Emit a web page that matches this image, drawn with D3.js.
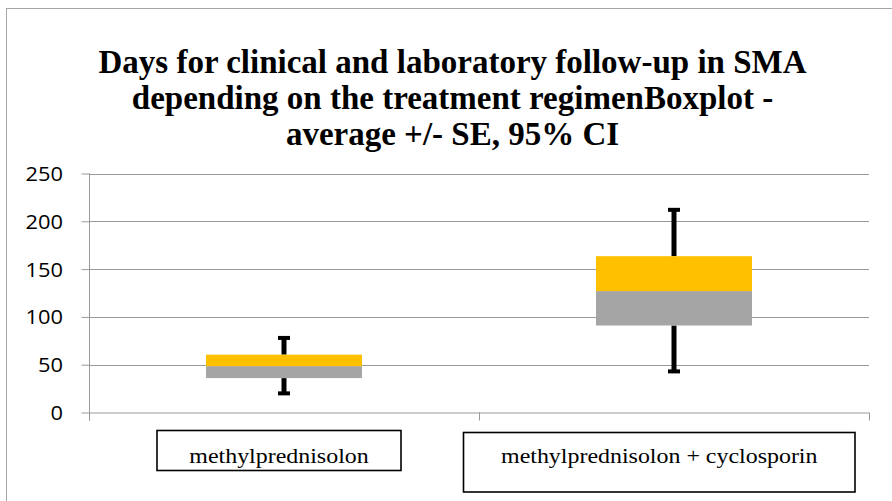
<!DOCTYPE html>
<html>
<head>
<meta charset="utf-8">
<script src="https://cdn.jsdelivr.net/npm/d3@7"></script>
<style>
  html, body { margin: 0; padding: 0; background: #fff; }
  svg { display: block; }
</style>
</head>
<body>
<svg id="chart" width="892" height="501"></svg>
<script>
// Follow-up days by treatment regimen: quartile box with min/max whiskers
const categories = ["methylprednisolon", "methylprednisolon + cyclosporin"];
const minValues    = [20, 43];
const q1Values     = [36, 91];
const medianValues = [48.5, 127];
const q3Values     = [60.5, 163.5];
const maxValues    = [78, 212];
const yTicks = [0, 50, 100, 150, 200, 250];
const titleLines = [
  "Days for clinical and laboratory follow-up in SMA",
  "depending on the treatment regimenBoxplot -",
  "average +/- SE, 95% CI"
];

const svg = d3.select("#chart");
const W = 892, H = 501;

// Chart frame
svg.append("rect")
  .attr("x", 6.5).attr("y", 8.5)
  .attr("width", W + 20).attr("height", H + 20)
  .attr("fill", "#fff").attr("stroke", "#a6a6a6").attr("stroke-width", 1);

// Title
const title = svg.append("text")
  .attr("text-anchor", "middle")
  .attr("font-family", "'Liberation Serif', 'Times New Roman', serif")
  .attr("font-weight", "bold")
  .attr("font-size", 33)
  .attr("fill", "#000");
titleLines.forEach((t, i) => {
  title.append("tspan").attr("x", 452.5).attr("y", 73 + i * 36).text(t);
});

// Plot area
const plot = { left: 89, right: 869, top: 173.5, bottom: 412.5 };
const y = d3.scaleLinear().domain([0, 250]).range([plot.bottom, plot.top]);
const x = d3.scaleBand().domain(categories).range([plot.left, plot.right]).padding(0);
const gridColor = "#999999";

// Horizontal gridlines
svg.append("g")
  .selectAll("line")
  .data(yTicks.filter(d => d > 0))
  .join("line")
  .attr("x1", plot.left).attr("x2", plot.right)
  .attr("y1", d => Math.round(y(d)) + 0.5).attr("y2", d => Math.round(y(d)) + 0.5)
  .attr("stroke", gridColor).attr("stroke-width", 1);

// Y axis
const yAxis = svg.append("g")
  .attr("transform", `translate(${plot.left + 0.5},0)`)
  .call(d3.axisLeft(y).tickValues(yTicks).tickSize(8).tickPadding(0).tickFormat(d3.format("d")));
yAxis.select(".domain").attr("stroke", gridColor).attr("d", `M0,${plot.top}V${plot.bottom + 8}`);
yAxis.selectAll(".tick line").attr("stroke", gridColor);
const sx = 1.12;
yAxis.selectAll(".tick text")
  .attr("font-family", "'Open Sans', 'Noto Sans', sans-serif")
  .attr("font-size", 19.5)
  .attr("fill", "#000")
  .attr("transform", `scale(${sx},1)`)
  .attr("x", -26.5 / sx)
  .attr("dy", "0.36em");

// X axis with tick marks at category boundaries
const xAxisG = svg.append("g").attr("transform", `translate(0,${plot.bottom})`);
xAxisG.append("line")
  .attr("x1", plot.left).attr("x2", plot.right)
  .attr("y1", 0.5).attr("y2", 0.5)
  .attr("stroke", gridColor);
const boundaries = categories.map(c => x(c)).concat([x(categories[categories.length - 1]) + x.bandwidth()]);
xAxisG.selectAll("line.tk")
  .data(boundaries)
  .join("line").attr("class", "tk")
  .attr("x1", d => Math.round(d) + 0.5).attr("x2", d => Math.round(d) + 0.5)
  .attr("y1", 0).attr("y2", 8)
  .attr("stroke", gridColor);

// Boxes and whiskers
const boxW = x.bandwidth() * 0.4;
const rows = categories.map((c, i) => ({
  c, min: minValues[i], q1: q1Values[i], med: medianValues[i], q3: q3Values[i], max: maxValues[i]
}));
const g = svg.append("g");
const cx = d => x(d.c) + x.bandwidth() / 2;

// whisker stems
g.selectAll("line.stem-top").data(rows).join("line")
  .attr("x1", cx).attr("x2", cx)
  .attr("y1", d => y(d.max)).attr("y2", d => y(d.q3))
  .attr("stroke", "#000").attr("stroke-width", 5);
g.selectAll("line.stem-bottom").data(rows).join("line")
  .attr("x1", cx).attr("x2", cx)
  .attr("y1", d => y(d.min)).attr("y2", d => y(d.q1))
  .attr("stroke", "#000").attr("stroke-width", 5);
// whisker caps
["max", "min"].forEach(k => {
  g.selectAll(`line.cap-${k}`).data(rows).join("line")
    .attr("x1", d => cx(d) - 6).attr("x2", d => cx(d) + 6)
    .attr("y1", d => y(d[k])).attr("y2", d => y(d[k]))
    .attr("stroke", "#000").attr("stroke-width", 4);
});
// lower half of box (Q1 to median)
g.selectAll("rect.low").data(rows).join("rect")
  .attr("x", d => cx(d) - boxW / 2).attr("width", boxW)
  .attr("y", d => y(d.med)).attr("height", d => y(d.q1) - y(d.med))
  .attr("fill", "#a5a5a5");
// upper half of box (median to Q3)
g.selectAll("rect.high").data(rows).join("rect")
  .attr("x", d => cx(d) - boxW / 2).attr("width", boxW)
  .attr("y", d => y(d.q3)).attr("height", d => y(d.med) - y(d.q3))
  .attr("fill", "#ffc000");

// Category labels in framed text boxes
const labelBoxes = [
  { x: 157, y: 430.5, w: 244, h: 40, base: 462.5 },
  { x: 463.5, y: 432.5, w: 391.5, h: 59.5, base: 462.5 }
];
const lab = svg.append("g");
categories.forEach((c, i) => {
  const b = labelBoxes[i];
  lab.append("rect")
    .attr("x", b.x).attr("y", b.y).attr("width", b.w).attr("height", b.h)
    .attr("fill", "#fff").attr("stroke", "#000").attr("stroke-width", 1.6);
  const tx = b.x + b.w / 2;
  lab.append("text")
    .attr("transform", `translate(${tx},${b.base}) scale(1.14,1)`)
    .attr("text-anchor", "middle")
    .attr("font-family", "'Liberation Serif', 'Times New Roman', serif")
    .attr("font-size", 21)
    .attr("fill", "#000")
    .text(c);
});
</script>
</body>
</html>
